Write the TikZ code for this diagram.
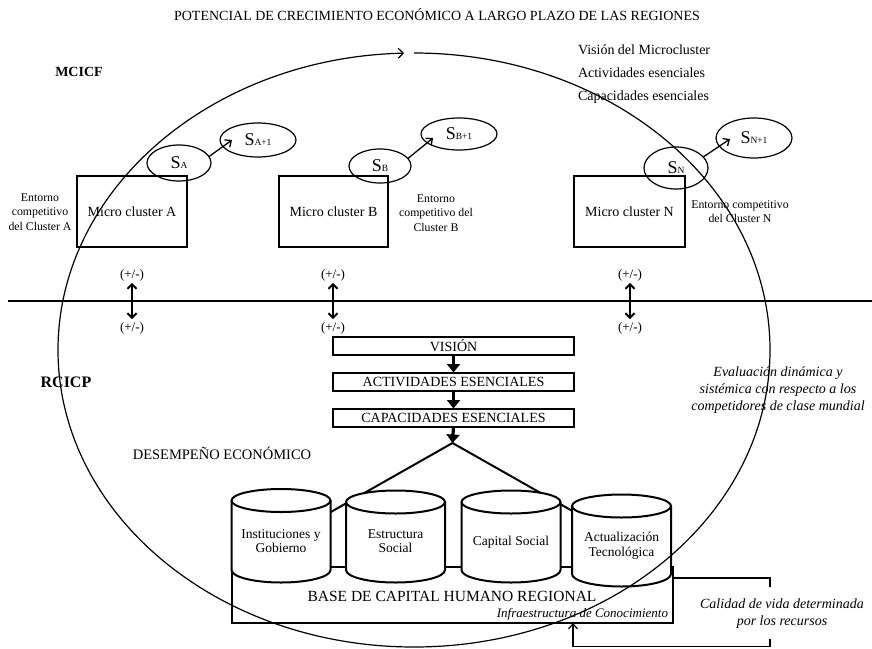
\documentclass[tikz,border=0pt]{standalone}
\usepackage{fontspec}
\setmainfont{Liberation Serif}
\usetikzlibrary{arrows.meta,shapes.geometric}

\newcommand\fs[2]{\fontsize{#1}{#2}\selectfont}
% state label: big S followed by a small index
\newcommand\Sl[1]{{\fs{18}{18}S}{\fs{9.5}{10}#1}}

\begin{document}
\begin{tikzpicture}[x=1pt,y=-1pt,
  every node/.style={inner sep=0pt,outer sep=0pt},
  txt/.style={font=\fs{14}{17}},
  note/.style={font=\fs{11.8}{14.5},align=center},
  itnote/.style={font=\fs{14}{17}\itshape,align=center},
  pm/.style={font=\fs{13}{15}},
  bold/.style={font=\fs{14}{17}\bfseries},
  mbox/.style={draw,line width=2pt,minimum width=110pt,minimum height=71pt,font=\fs{14}{17}},
  fbox/.style={draw,line width=2pt,minimum width=241pt,minimum height=18pt,font=\fs{14}{17}},
  sbub/.style={ellipse,draw,line width=1.2pt},
  sarrow/.style={line width=1.3pt,-{Straight Barb[length=5pt,width=9pt]}},
  darrow/.style={line width=2pt,{Straight Barb[length=4.5pt,width=9pt]}-{Straight Barb[length=4.5pt,width=9pt]}},
  flow/.style={line width=3.2pt,-{Triangle[length=8.5pt,width=13pt]}},
  drumline/.style={line width=2pt,fill=white},
  drumtxt/.style={font=\fs{13.5}{14.5},align=center},
  ring/.style={line width=1.2pt,-{Straight Barb[length=5pt,width=10pt]}},
  thinline/.style={line width=1.2pt}]

\useasboundingbox (0,0) rectangle (872,648);

% headings
\node[txt] (title) at (437,15) {POTENCIAL DE CRECIMIENTO ECONÓMICO A LARGO PLAZO DE LAS REGIONES};
\node[txt,anchor=west] (vmc) at (578,50) {Visión del Microcluster};
\node[txt,anchor=west] (amc) at (578,73) {Actividades esenciales};
\node[txt,anchor=west] (cmc) at (578,97) {Capacidades esenciales};
\node[bold] (mcicf) at (79,72) {MCICF};
\node[bold,font=\fs{16}{18}\bfseries] (rcicp) at (66,382) {RCICP};

% micro clusters
\node[mbox] (mca) at (132,211.5) {Micro cluster A};
\node[mbox,minimum width=109pt] (mcb) at (333.5,211.5) {Micro cluster B};
\node[mbox,minimum width=111pt] (mcn) at (629.5,211.5) {Micro cluster N};

\node[note] (enta) at (40,212) {Entorno\\competitivo\\del Cluster A};
\node[note] (entb) at (436,213) {Entorno\\competitivo del\\Cluster B};
\node[note,font=\fs{11.8}{13.5}] (entn) at (740,211.5) {Entorno competitivo\\del Cluster N};

% states of each cluster
\node[sbub,minimum width=64pt,minimum height=36pt] (sa) at (179,163) {\Sl{A}};
\node[sbub,minimum width=76pt,minimum height=34pt] (sa1) at (258,140) {\Sl{A+1}};
\node[sbub,minimum width=62pt,minimum height=34pt] (sb) at (380,166) {\Sl{B}};
\node[sbub,minimum width=76pt,minimum height=32pt] (sb1) at (459,134) {\Sl{B+1}};
\node[sbub,minimum width=64pt,minimum height=42pt] (sn) at (676,168) {\Sl{N}};
\node[sbub,minimum width=76pt,minimum height=40pt] (sn1) at (754,138) {\Sl{N+1}};

\draw[sarrow] (sa.12) -- ([xshift=12pt]sa1.west);
\draw[sarrow] (sb.15) -- ([xshift=12pt,yshift=-4pt]sb1.west);
\draw[sarrow] (sn.22) -- ([xshift=14pt,yshift=-1pt]sn1.west);

% dividing line and the two-way links across it
\coordinate (hl) at (8,301);
\coordinate (hr) at (872,301);
\draw[line width=2pt] (hl) -- (hr);

\node[pm] (pa1) at (132,275) {(+/-)};
\node[pm] (pa2) at (132,328) {(+/-)};
\node[pm] (pb1) at (333,275) {(+/-)};
\node[pm] (pb2) at (333,328) {(+/-)};
\node[pm] (pn1) at (630,275) {(+/-)};
\node[pm] (pn2) at (630,328) {(+/-)};
\draw[darrow] ([yshift=-2pt]pa1.south) -- ([yshift=3pt]pa2.north);
\draw[darrow] ([yshift=-2pt]pb1.south) -- ([yshift=3pt]pb2.north);
\draw[darrow] ([yshift=-2pt]pn1.south) -- ([yshift=3pt]pn2.north);

% regional chain
\node[fbox] (vis) at (453.5,345.5) {VISIÓN};
\node[fbox] (act) at (453.5,381.5) {ACTIVIDADES ESENCIALES};
\node[fbox] (cap) at (453.5,417.5) {CAPACIDADES ESENCIALES};
\coordinate (apex) at (452.5,443);
\draw[flow] (vis.south) -- (act.north);
\draw[flow] (act.south) -- (cap.north);
\draw[flow] (cap.south) -- (apex);

\node[txt,font=\fs{14.5}{17}] (desemp) at (222,453) {DESEMPEÑO ECONÓMICO};

\node[itnote] (evalua) at (778,390) {Evaluación dinámica y\\sistémica con respecto a los\\competidores de clase mundial};

% roof over the pillars
\coordinate (rl) at (322,517);
\coordinate (rr) at (583,517);
\draw[line width=2pt] (rl) -- (apex) -- (rr);

% human capital base
\node[draw,line width=2pt,minimum width=441pt,minimum height=56pt] (base) at (452.5,595) {};
\node[txt,font=\fs{15.5}{17}] (basetxt) at (452,596) {BASE DE CAPITAL HUMANO REGIONAL};
\node[font=\fs{13}{15}\itshape,anchor=east] (infra) at (668,614) {Infraestructura de Conocimiento};

% pillars: cx, top rim centre, bottom rim centre
\newcommand\drum[3]{%
  \draw[drumline] (#1-49.5,#2) -- (#1-49.5,#3)
     arc[start angle=180,end angle=360,x radius=49.5pt,y radius=12.5pt]
     -- (#1+49.5,#2)
     arc[start angle=0,end angle=180,x radius=49.5pt,y radius=11.5pt] -- cycle;
  \draw[line width=2pt] (#1-49.5,#2)
     arc[start angle=180,end angle=360,x radius=49.5pt,y radius=11.5pt];}
\drum{281}{500.5}{570}
\drum{395.5}{502}{570}
\drum{511}{502}{570}
\drum{621.5}{506}{574}

\node[drumtxt] (inst) at (281,541) {Instituciones y\\Gobierno};
\node[drumtxt] (estr) at (395.5,541) {Estructura\\Social};
\node[drumtxt] (capsoc) at (511,542) {Capital Social};
\node[drumtxt] (actec) at (621.5,546) {Actualización\\Tecnológica};

% feedback from the resources
\coordinate (fa) at (671.5,578);
\coordinate (fb) at (770,578);
\coordinate (fc) at (770,587);
\coordinate (fd) at (770,639);
\coordinate (fe) at (770,646.5);
\coordinate (ff) at (573,646.5);
\draw[thinline] (fa) -- (fb) -- (fc);
\draw[thinline,-{Straight Barb[length=5pt,width=9pt]}] (fd) -- (fe) -- (ff) -- (ff |- base.south);
\node[itnote] (calidad) at (782,613.5) {Calidad de vida determinada\\por los recursos};

% the long-term growth cycle
\draw[ring] (414,53) arc[start angle=90,end angle=-268.4,x radius=356pt,y radius=297pt];

\end{tikzpicture}
\end{document}
